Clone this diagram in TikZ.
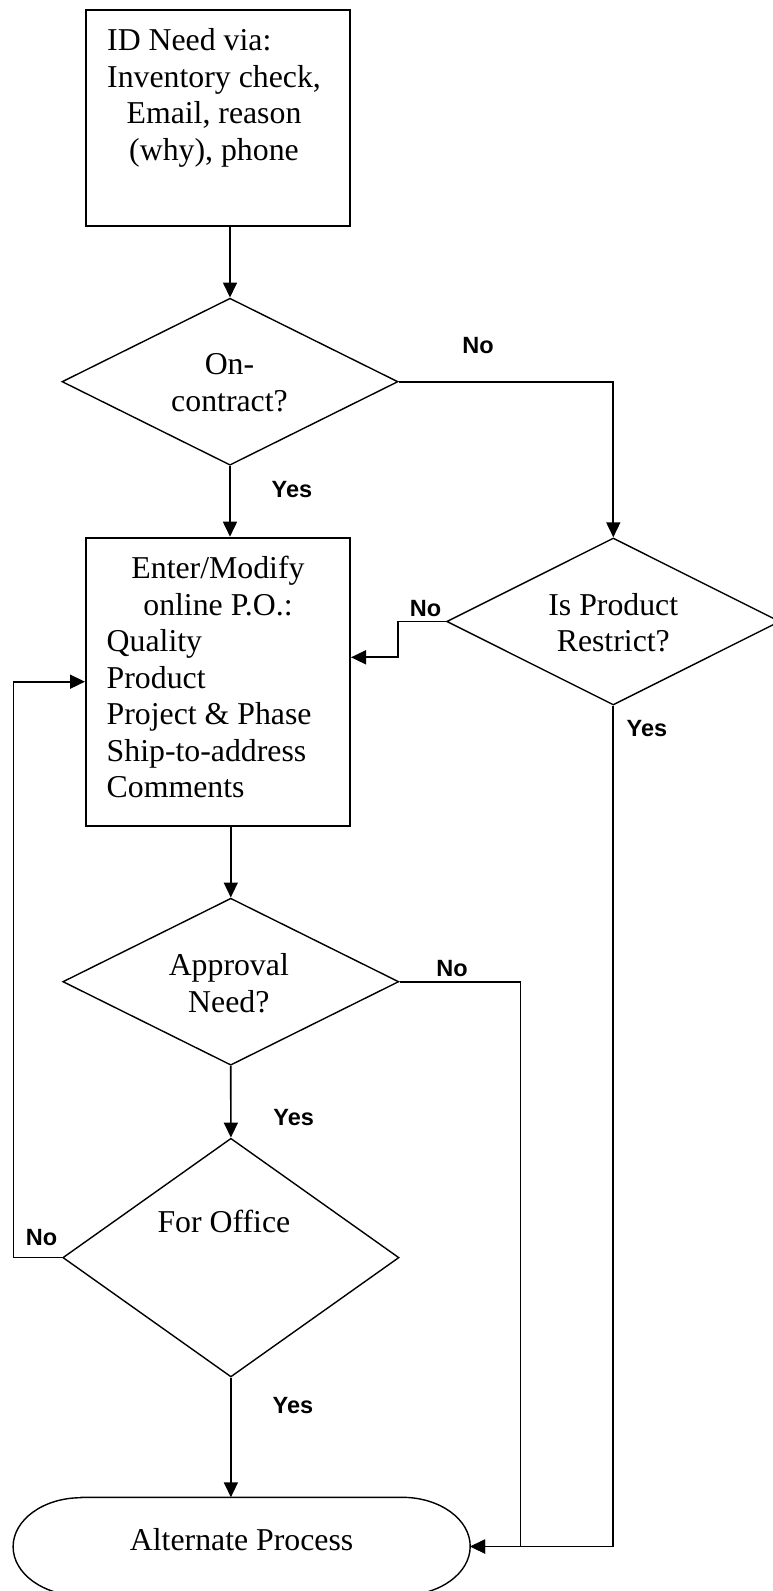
\documentclass[tikz,border=0pt]{standalone}
\usepackage{fontspec}
\setmainfont{Liberation Serif}
\newfontfamily\lblfont{Liberation Sans}
\usetikzlibrary{shapes.geometric,arrows.meta}
\newcommand{\placed}[3]{\makebox[0pt]{\kern#1\raisebox{#2}[0pt][0pt]{#3}\kern-#1}}
\begin{document}
\begin{tikzpicture}[x=1pt,y=-1pt,
  txt/.style={font=\fontsize{31.8pt}{36.5pt}\selectfont, inner sep=0pt},
  procbox/.style={txt, draw, line width=2pt, rectangle},
  decision/.style={txt, draw, line width=1.4pt, diamond},
  lbl/.style={font=\lblfont\bfseries\fontsize{23.5pt}{28pt}\selectfont, inner sep=0pt, anchor=base},
  conn/.style={line width=1.7pt, -{Triangle[length=15pt,width=14pt]}}
]
\useasboundingbox (0,0) rectangle (773,1591);

% shapes
\node[procbox, minimum width=264pt, minimum height=215.7pt] (need) at (218,117.85)
  {\placed{-4pt}{-42.15pt}{\begin{tabular}[b]{@{}c@{}}\rlap{ID Need via:}\phantom{Inventory check,}\\Inventory check,\\Email, reason\\(why), phone\end{tabular}}};

\node[decision, minimum width=336pt, minimum height=167pt] (oncon) at (230,381.7)
  {\placed{-0.5pt}{-29.8pt}{\begin{tabular}[b]{@{}c@{}}On-\\[1pt]contract?\end{tabular}}};

\node[decision, minimum width=333.2pt, minimum height=167pt] (isprod) at (613.3,621.5)
  {\placed{0pt}{-30pt}{\begin{tabular}[b]{@{}c@{}}Is Product\\Restrict?\end{tabular}}};

\node[procbox, minimum width=264pt, minimum height=288pt] (enter) at (218,681.7)
  {\placed{0pt}{-116pt}{\begin{tabular}[b]{@{}l@{}}\makebox[222.6pt]{Enter/Modify}\\\makebox[222.6pt]{online P.O.:}\\Quality\\Product\\Project \& Phase\\Ship-to-address\\Comments\end{tabular}}};

\node[decision, minimum width=336pt, minimum height=167pt] (approval) at (230.8,981.7)
  {\placed{-2pt}{-31pt}{\begin{tabular}[b]{@{}c@{}}Approval\\[1pt]Need?\end{tabular}}};

\node[decision, minimum width=336.2pt, minimum height=238.7pt] (office) at (230.9,1257.6)
  {\placed{-7pt}{24.9pt}{For Office}};

\node[txt, minimum width=456.7pt, minimum height=98pt] (alt) at (241.65,1546.5)
  {\placed{0pt}{-3.5pt}{Alternate Process}};
\draw[line width=1.4pt] ([xshift=68pt]alt.north west) -- ([xshift=-68pt]alt.north east)
  arc[start angle=90, end angle=-90, x radius=68pt, y radius=49pt]
  -- ([xshift=68pt]alt.south west)
  arc[start angle=270, end angle=90, x radius=68pt, y radius=49pt] -- cycle;

% connectors
\coordinate (j1) at (398,657.3);
\coordinate (lp) at (13.6,0);
\coordinate (rp) at (520.6,0);
\draw[conn] (oncon.north |- need.south) -- (oncon.north);
\draw[conn] (oncon.south) -- (oncon.south |- enter.north);
\draw[conn] (oncon.east) -| (isprod.north);
\draw[conn] (isprod.west) -| (j1) -- (j1 -| enter.east);
\draw[conn] (office.west) -- (office.west -| lp) |- (enter.west);
\draw[conn] (approval.north |- enter.south) -- (approval.north);
\draw[conn] (approval.south) -- (office.north);
\draw[conn] (approval.east) -- (approval.east -| rp) |- (alt.east);
\draw[conn] (isprod.south) |- (alt.east);
\draw[conn] (office.south) -- (office.south |- alt.north);

% labels
\node[lbl] (lno1) at (478,353.3) {No};
\node[lbl] (lyes1) at (292,497) {Yes};
\node[lbl] (lno2) at (425.5,616.7) {No};
\node[lbl] (lyes2) at (647,736.7) {Yes};
\node[lbl] (lno3) at (452,976.7) {No};
\node[lbl] (lyes3) at (293.7,1125) {Yes};
\node[lbl] (lno4) at (41.6,1245) {No};
\node[lbl] (lyes4) at (293,1413) {Yes};
\end{tikzpicture}
\end{document}
